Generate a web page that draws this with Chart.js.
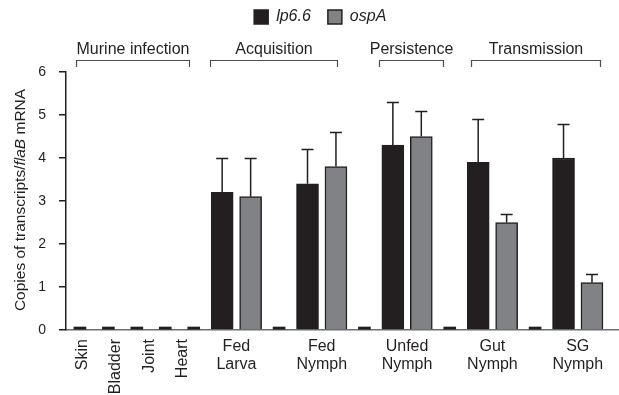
<!DOCTYPE html>
<html>
<head>
<meta charset="utf-8">
<script src="https://cdn.jsdelivr.net/npm/chart.js@4.4.1/dist/chart.umd.min.js"></script>
<style>
  html, body { margin: 0; padding: 0; background: #fff; }
  canvas { display: block; }
</style>
</head>
<body>
<canvas id="chart" width="619" height="395"></canvas>
<script>
// data
const tissues = ['Skin', 'Bladder', 'Joint', 'Heart'];
const tissueLevels = [0, 0, 0, 0];
const stages = ['Fed Larva', 'Fed Nymph', 'Unfed Nymph', 'Gut Nymph', 'SG Nymph'];
const lp66 = [3.2, 3.4, 4.3, 3.9, 4.0];
const lp66Err = [0.8, 0.8, 1.0, 1.0, 0.8];
const ospA = [3.1, 3.8, 4.5, 2.5, 1.1];
const ospAErr = [0.9, 0.8, 0.6, 0.2, 0.2];
const yTicks = [0, 1, 2, 3, 4, 5, 6];
const groupNames = ['Murine infection', 'Acquisition', 'Persistence', 'Transmission'];

const FONT = "'Liberation Sans', Arial, Helvetica, sans-serif";
const INK = '#231f20';
const GREY = '#808285';

// slot layout: one slot per tissue, a blank slot, then lp6.6 / ospA / blank per stage
const firstStage = tissues.length + 1;
const lpSlot = j => firstStage + 3 * j;
const ospSlot = j => firstStage + 3 * j + 1;

const lpData = lp66.map((v, j) => ({x: lpSlot(j), y: v}));
const ospData = ospA.map((v, j) => ({x: ospSlot(j), y: v}));
const zeroData = tissueLevels.map((v, i) => ({x: i, y: v}));
stages.forEach((s, j) => zeroData.push({x: lpSlot(j) - 1, y: 0}));

// bracket spans over the slots
const groupSpans = [[-0.14, 3.83], [4.57, 9.03], [10.5, 12.76], [13.74, 18.28]];

const errorBars = {
  id: 'errorBars',
  afterDatasetsDraw(chart) {
    const {ctx, scales: {y}} = chart;
    ctx.save();
    ctx.strokeStyle = INK;
    ctx.lineWidth = 1.5;
    chart.data.datasets.forEach((ds, i) => {
      if (!ds.errors) return;
      chart.getDatasetMeta(i).data.forEach((bar, k) => {
        const top = Math.round(y.getPixelForValue(ds.data[k].y + ds.errors[k])) + 0.5;
        ctx.beginPath();
        ctx.moveTo(bar.x, bar.y);
        ctx.lineTo(bar.x, top);
        ctx.moveTo(bar.x - 6, top);
        ctx.lineTo(bar.x + 6, top);
        ctx.stroke();
      });
    });
    ctx.restore();
  }
};

const annotations = {
  id: 'annotations',
  beforeInit(chart) {
    // leave room under the legend for the group brackets
    const fit = chart.legend.fit;
    chart.legend.fit = function () {
      fit.call(this);
      this.height = 80;
    };
  },
  afterDraw(chart) {
    const {ctx, scales: {x, y}, chartArea} = chart;
    ctx.save();
    ctx.fillStyle = INK;

    // group brackets
    ctx.strokeStyle = '#4d4d4f';
    ctx.lineWidth = 1.2;
    ctx.font = '16px ' + FONT;
    ctx.textAlign = 'center';
    ctx.textBaseline = 'alphabetic';
    groupNames.forEach((name, g) => {
      const x0 = Math.round(x.getPixelForValue(groupSpans[g][0])) + 0.5;
      const x1 = Math.round(x.getPixelForValue(groupSpans[g][1])) + 0.5;
      ctx.beginPath();
      ctx.moveTo(x0, 67);
      ctx.lineTo(x0, 60.5);
      ctx.lineTo(x1, 60.5);
      ctx.lineTo(x1, 67);
      ctx.stroke();
      ctx.fillText(name, (x0 + x1) / 2, 54);
    });

    // rotated tissue labels
    ctx.font = '16px ' + FONT;
    ctx.textAlign = 'right';
    ctx.textBaseline = 'middle';
    tissues.forEach((t, i) => {
      ctx.save();
      ctx.translate(x.getPixelForValue(i * 1.17 + 0.1), chartArea.bottom + 9);
      ctx.rotate(-Math.PI / 2);
      ctx.fillText(t, 0, 0);
      ctx.restore();
    });

    // two-line stage labels
    ctx.textAlign = 'center';
    ctx.textBaseline = 'alphabetic';
    stages.forEach((s, j) => {
      const cx = x.getPixelForValue(lpSlot(j) + 0.5);
      const words = s.split(' ');
      ctx.fillText(words[0], cx, chartArea.bottom + 21);
      ctx.fillText(words[1], cx, chartArea.bottom + 39);
    });

    // y title with italic gene name
    const parts = [
      ['Copies of transcripts/', 'normal'],
      ['flaB', 'italic'],
      [' mRNA', 'normal']
    ];
    let total = 0;
    parts.forEach(p => {
      ctx.font = p[1] + ' 15.5px ' + FONT;
      p.push(ctx.measureText(p[0]).width);
      total += p[2];
    });
    ctx.translate(21, (chartArea.top + chartArea.bottom) / 2 - 1);
    ctx.rotate(-Math.PI / 2);
    ctx.textAlign = 'left';
    ctx.textBaseline = 'middle';
    let pos = -total / 2;
    parts.forEach(p => {
      ctx.font = p[1] + ' 15.5px ' + FONT;
      ctx.fillText(p[0], pos, 0);
      pos += p[2];
    });
    ctx.restore();
  }
};

new Chart(document.getElementById('chart'), {
  type: 'bar',
  data: {
    datasets: [
      {
        label: 'lp6.6',
        data: lpData,
        errors: lp66Err,
        backgroundColor: INK,
        borderColor: INK,
        borderWidth: 1.5,
        barThickness: 22,
        maxBarThickness: 22,
        grouped: false
      },
      {
        label: 'ospA',
        data: ospData,
        errors: ospAErr,
        backgroundColor: GREY,
        borderColor: INK,
        borderWidth: 1.5,
        barThickness: 22,
        maxBarThickness: 22,
        grouped: false
      },
      {
        label: 'not detected',
        data: zeroData,
        backgroundColor: INK,
        borderWidth: 0,
        barThickness: 12,
        maxBarThickness: 12,
        minBarLength: 3,
        grouped: false
      }
    ]
  },
  options: {
    responsive: false,
    animation: false,
    layout: {padding: {left: 21.5, right: 0, top: -8, bottom: 0}},
    plugins: {
      legend: {
        position: 'top',
        labels: {
          boxWidth: 14,
          boxHeight: 14,
          padding: 17,
          color: INK,
          font: {family: FONT, size: 16, style: 'italic'},
          filter: item => item.datasetIndex < 2
        }
      },
      tooltip: {enabled: false}
    },
    scales: {
      x: {
        type: 'linear',
        min: -0.49,
        max: 18.95,
        offset: false,
        grid: {display: false},
        ticks: {display: false},
        border: {color: '#6d6e71', width: 1.5},
        afterFit: s => { s.height = 65; }
      },
      y: {
        min: 0,
        max: 6,
        afterBuildTicks: s => { s.ticks = yTicks.map(v => ({value: v})); },
        grid: {drawOnChartArea: false, drawTicks: true, tickLength: 7, color: INK, lineWidth: 1.5},
        border: {color: INK, width: 1.5},
        ticks: {color: INK, padding: 13, font: {family: FONT, size: 14}},
        afterFit: s => { s.width = 44.5; }
      }
    }
  },
  plugins: [errorBars, annotations]
});
</script>
</body>
</html>
